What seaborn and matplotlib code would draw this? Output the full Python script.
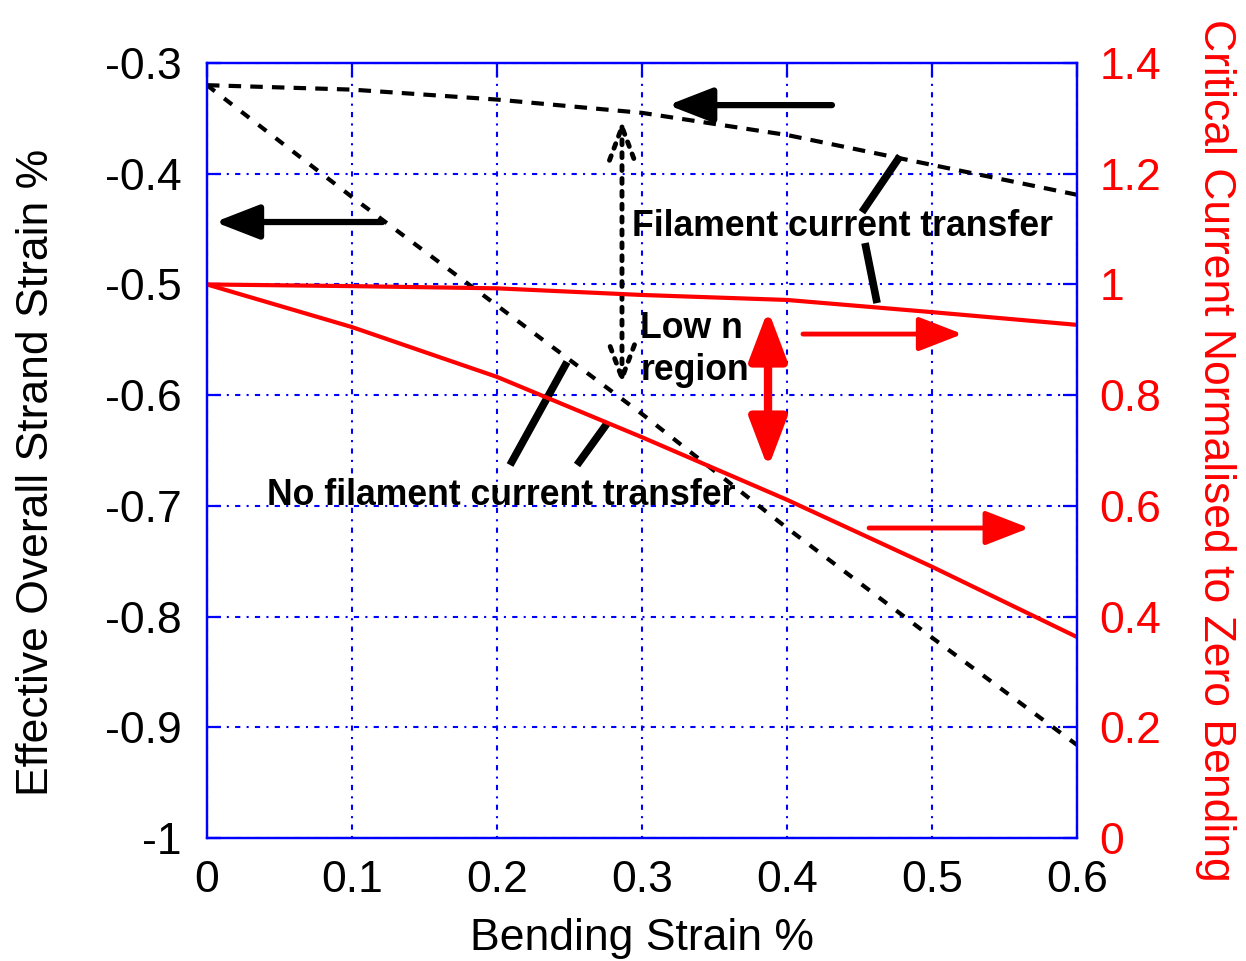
import matplotlib
matplotlib.use("Agg")
import matplotlib.pyplot as plt
import seaborn as sns

# ---------------- data ----------------
bending = [0.0, 0.1, 0.2, 0.3, 0.4, 0.5, 0.6]
strain_transfer = [-0.320, -0.324, -0.333, -0.345, -0.365, -0.392, -0.419]
strain_no_transfer = [-0.320, -0.421, -0.519, -0.617, -0.720, -0.819, -0.916]
ic_transfer = [1.000, 0.997, 0.993, 0.981, 0.972, 0.950, 0.927]
ic_no_transfer = [1.000, 0.923, 0.833, 0.724, 0.611, 0.490, 0.363]

x_ticks = [0, 0.1, 0.2, 0.3, 0.4, 0.5, 0.6]
x_tick_labels = ["0", "0.1", "0.2", "0.3", "0.4", "0.5", "0.6"]
left_ticks = [-1, -0.9, -0.8, -0.7, -0.6, -0.5, -0.4, -0.3]
left_tick_labels = ["-1", "-0.9", "-0.8", "-0.7", "-0.6", "-0.5", "-0.4", "-0.3"]
right_ticks = [0, 0.2, 0.4, 0.6, 0.8, 1.0, 1.2, 1.4]
right_tick_labels = ["0", "0.2", "0.4", "0.6", "0.8", "1", "1.2", "1.4"]

x_label = "Bending Strain %"
left_label = "Effective Overall Strand Strain %"
right_label = "Critical Current Normalised to Zero Bending"

# annotations (data coordinates of the left axis)
black_arrows = [((0.431, -0.338), (0.318, -0.338)),
                ((0.121, -0.4436), (0.0055, -0.4436))]
red_arrows = [((0.411, -0.5448), (0.521, -0.5448)),
              ((0.4566, -0.720), (0.567, -0.720))]
red_double = ((0.3869, -0.5231), (0.3869, -0.6658))
dotted_double = ((0.2862, -0.3515), (0.2862, -0.5908))
leaders = [((0.478, -0.384), (0.4517, -0.4347)),
           ((0.4538, -0.4626), (0.4621, -0.5168)),
           ((0.2483, -0.570), (0.209, -0.6631)),
           ((0.2766, -0.6243), (0.2552, -0.6631))]
texts = [("Filament current transfer", 0.438, -0.448, "center"),
         ("Low n", 0.2986, -0.5394, "left"),
         ("region", 0.2993, -0.578, "left"),
         ("No filament current transfer", 0.2028, -0.691, "center")]

# ---------------- style ----------------
sns.set_style("white")
plt.rcParams["font.family"] = ["Liberation Sans", "DejaVu Sans"]
BLUE = "#0000ff"
RED = "#ff0000"
FS = 32

fig = plt.figure(figsize=(12.46, 9.61), dpi=100)
ax = fig.add_axes([0.1661, 0.1280, 0.6983, 0.8064])
ax2 = ax.twinx()

sns.lineplot(x=bending, y=strain_transfer, ax=ax, color="black", lw=3.0,
             linestyle=(0, (3, 2.2)), errorbar=None)
sns.lineplot(x=bending, y=strain_no_transfer, ax=ax, color="black", lw=3.0,
             linestyle=(0, (2.4, 2.8)), errorbar=None)
sns.lineplot(x=bending, y=ic_transfer, ax=ax2, color=RED, lw=3.0, errorbar=None)
sns.lineplot(x=bending, y=ic_no_transfer, ax=ax2, color=RED, lw=3.0, errorbar=None)

ax.set_xlim(0, 0.6)
ax.set_ylim(-1, -0.3)
ax2.set_ylim(0, 1.4)

ax.set_xticks(x_ticks)
ax.set_xticklabels(x_tick_labels)
ax.set_yticks(left_ticks)
ax.set_yticklabels(left_tick_labels)
ax2.set_yticks(right_ticks)
ax2.set_yticklabels(right_tick_labels)

ax.grid(True, color=BLUE, lw=1.5, linestyle=(0, (1, 3, 2.5, 3)))
for a in (ax, ax2):
    for s in a.spines.values():
        s.set_color(BLUE)
        s.set_linewidth(1.6)
ax.tick_params(axis="both", direction="in", length=10, width=1.6, color=BLUE,
               labelsize=FS, labelcolor="black", top=True, right=False, pad=16)
ax.tick_params(axis="y", pad=18)
ax2.tick_params(axis="y", direction="in", length=10, width=1.6, color=BLUE,
                labelsize=FS, labelcolor=RED, pad=16)

ax.set_xlabel(x_label, fontsize=FS, labelpad=12, color="black")
ax.set_ylabel(left_label, fontsize=FS, labelpad=35, color="black")
ax.yaxis.label.set_y(0.472)
ax2.set_ylabel(right_label, fontsize=FS, color=RED, rotation=270, labelpad=54)

# arrows
for tail, tip in black_arrows:
    ax.annotate("", xy=tip, xytext=tail,
                arrowprops=dict(arrowstyle="-|>,head_length=0.9,head_width=0.35",
                                lw=4.5, color="black", shrinkA=0, shrinkB=0,
                                mutation_scale=30))
for tail, tip in red_arrows:
    ax.annotate("", xy=tip, xytext=tail,
                arrowprops=dict(arrowstyle="-|>,head_length=0.9,head_width=0.35",
                                lw=3.5, color=RED, shrinkA=0, shrinkB=0,
                                mutation_scale=30))
ax.annotate("", xy=red_double[1], xytext=red_double[0],
            arrowprops=dict(arrowstyle="<|-|>,head_length=1.0,head_width=0.38",
                            lw=6, color=RED, shrinkA=0, shrinkB=0,
                            mutation_scale=30))
ax.annotate("", xy=dotted_double[1], xytext=dotted_double[0],
            arrowprops=dict(arrowstyle="<->,head_length=0.8,head_width=0.3",
                            lw=3.5, color="black", linestyle=":", shrinkA=0, shrinkB=0,
                            mutation_scale=30))
for (x0, y0), (x1, y1) in leaders:
    ax.plot([x0, x1], [y0, y1], color="black", lw=5.5, solid_capstyle="butt")

for s, x, y, ha in texts:
    ax.text(x, y, s, fontsize=25.7, fontweight="bold", ha=ha, va="center", color="black")

fig.savefig("out.png", dpi=100)
